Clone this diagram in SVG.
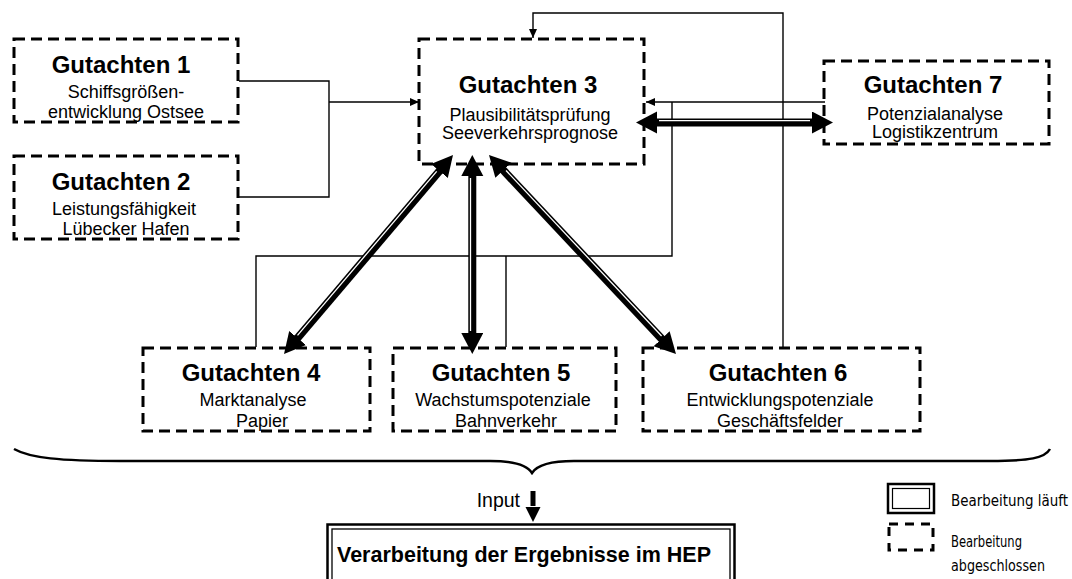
<svg xmlns="http://www.w3.org/2000/svg" width="1072" height="579" viewBox="0 0 1072 579">
<style>
.box{fill:none;stroke:#000;stroke-width:3;stroke-dasharray:11 6}
.t{font-family:"Liberation Sans",Arial,sans-serif;font-weight:bold;font-size:24px;text-anchor:middle;fill:#000}
.s{font-family:"Liberation Sans",Arial,sans-serif;font-size:18px;text-anchor:middle;fill:#000}
.thin{fill:none;stroke:#000;stroke-width:1.4}
.thick{fill:none;stroke:#000;stroke-width:8}
.gap{fill:none;stroke:#fff;stroke-width:1.3}
.leg{font-family:"DejaVu Sans Condensed","DejaVu Sans",Verdana,sans-serif;font-stretch:condensed;font-size:15.5px;fill:#000}
</style>
<defs>
<marker id="ah" markerUnits="userSpaceOnUse" markerWidth="10" markerHeight="10" refX="9" refY="4" orient="auto"><path d="M0,0 L9,4 L0,8 z" fill="#000"/></marker>
<marker id="big" markerUnits="userSpaceOnUse" markerWidth="24" markerHeight="24" refX="1" refY="11" orient="auto-start-reverse"><path d="M0,0 L21,11 L0,22 z" fill="#000"/></marker>
</defs>

<g id="connectors">
<path class="thin" d="M239,81 H329 V197 H239"/>
<path class="thin" d="M329,102 H419" marker-end="url(#ah)"/>
<path class="thin" d="M825,102 H646" marker-end="url(#ah)"/>
<path class="thin" d="M672,102 V256 H256 V347"/>
<path class="thin" d="M506,256 V347"/>
<path class="thin" d="M783,347 V13 H533 V38" marker-end="url(#ah)"/>

<path class="thick" d="M440.05,170.24 L296.95,338.76" marker-start="url(#big)" marker-end="url(#big)"/>
<path class="gap" d="M436.7,171.4 L297.5,335.3"/>
<path class="thick" d="M472.3,175 L472.3,334" marker-start="url(#big)" marker-end="url(#big)"/>
<path class="gap" d="M470.5,178 L470.5,331"/>
<path class="thick" d="M502.7,169.6 L662.3,339.4" marker-start="url(#big)" marker-end="url(#big)"/>
<path class="gap" d="M506.06,170.57 L661.56,335.97"/>
<path class="thick" d="M656,122.5 L813,122.5" marker-start="url(#big)" marker-end="url(#big)"/>
<path class="gap" d="M659,120.7 L810,120.7"/>

<path d="M14,449 C30,458 60,461 120,461 L490,461 C515,461 527,465 532,473 C537,465 549,461 574,461 L990,461 C1030,461 1045,458 1050,449" fill="none" stroke="#000" stroke-width="2.5"/>
<path d="M533,491 V506" stroke="#000" stroke-width="5"/>
<path d="M525.5,507 L540.5,507 L533,522 z" fill="#000"/>
</g>

<g id="g1">
<rect class="box" x="14" y="39" width="224" height="83"/>
<text class="t" x="121" y="73">Gutachten 1</text>
<text class="s" x="126" y="98">Schiffsgrößen-</text>
<text class="s" x="126" y="118">entwicklung Ostsee</text>
</g>
<g id="g2">
<rect class="box" x="14" y="156" width="224" height="83"/>
<text class="t" x="121" y="190">Gutachten 2</text>
<text class="s" x="124" y="215">Leistungsfähigkeit</text>
<text class="s" x="126" y="235">Lübecker Hafen</text>
</g>
<g id="g3">
<rect class="box" x="419" y="39" width="225" height="125"/>
<text class="t" x="528" y="93">Gutachten 3</text>
<text class="s" x="530" y="121">Plausibilitätsprüfung</text>
<text class="s" x="530" y="139">Seeverkehrsprognose</text>
</g>
<g id="g7">
<rect class="box" x="824" y="61" width="225" height="83"/>
<text class="t" x="933" y="93">Gutachten 7</text>
<text class="s" x="935" y="120">Potenzialanalyse</text>
<text class="s" x="935" y="138">Logistikzentrum</text>
</g>
<g id="g4">
<rect class="box" x="143" y="348" width="227" height="83"/>
<text class="t" x="251" y="381">Gutachten 4</text>
<text class="s" x="253" y="406">Marktanalyse</text>
<text class="s" x="262" y="427">Papier</text>
</g>
<g id="g5">
<rect class="box" x="393" y="348" width="223" height="83"/>
<text class="t" x="501" y="381">Gutachten 5</text>
<text class="s" x="503" y="406">Wachstumspotenziale</text>
<text class="s" x="506" y="427">Bahnverkehr</text>
</g>
<g id="g6">
<rect class="box" x="643" y="348" width="277" height="83"/>
<text class="t" x="778" y="381">Gutachten 6</text>
<text class="s" x="780" y="406">Entwicklungspotenziale</text>
<text class="s" x="780" y="427">Geschäftsfelder</text>
</g>

<g id="input">
<text x="520" y="507" font-family="Liberation Sans,Arial,sans-serif" font-size="19.5" text-anchor="end">Input</text>
</g>

<g id="hep">
<rect x="327.5" y="524.5" width="407" height="100" fill="none" stroke="#000" stroke-width="2.5"/>
<rect x="332" y="529" width="398" height="100" fill="none" stroke="#000" stroke-width="1.3"/>
<text x="524" y="562" font-family="Liberation Sans,Arial,sans-serif" font-weight="bold" font-size="21.5" text-anchor="middle">Verarbeitung der Ergebnisse im HEP</text>
</g>

<g id="legend">
<rect x="888" y="484" width="46" height="29" fill="none" stroke="#000" stroke-width="2.5"/>
<rect x="892.5" y="488.5" width="37" height="20" fill="none" stroke="#000" stroke-width="1.2"/>
<text class="leg" x="951" y="506" textLength="117" lengthAdjust="spacingAndGlyphs">Bearbeitung läuft</text>
<rect x="889" y="524" width="44" height="26" fill="none" stroke="#000" stroke-width="3" stroke-dasharray="9 7"/>
<text class="leg" x="951" y="547" textLength="71" lengthAdjust="spacingAndGlyphs">Bearbeitung</text>
<text class="leg" x="951" y="571" textLength="94" lengthAdjust="spacingAndGlyphs">abgeschlossen</text>
</g>
</svg>
